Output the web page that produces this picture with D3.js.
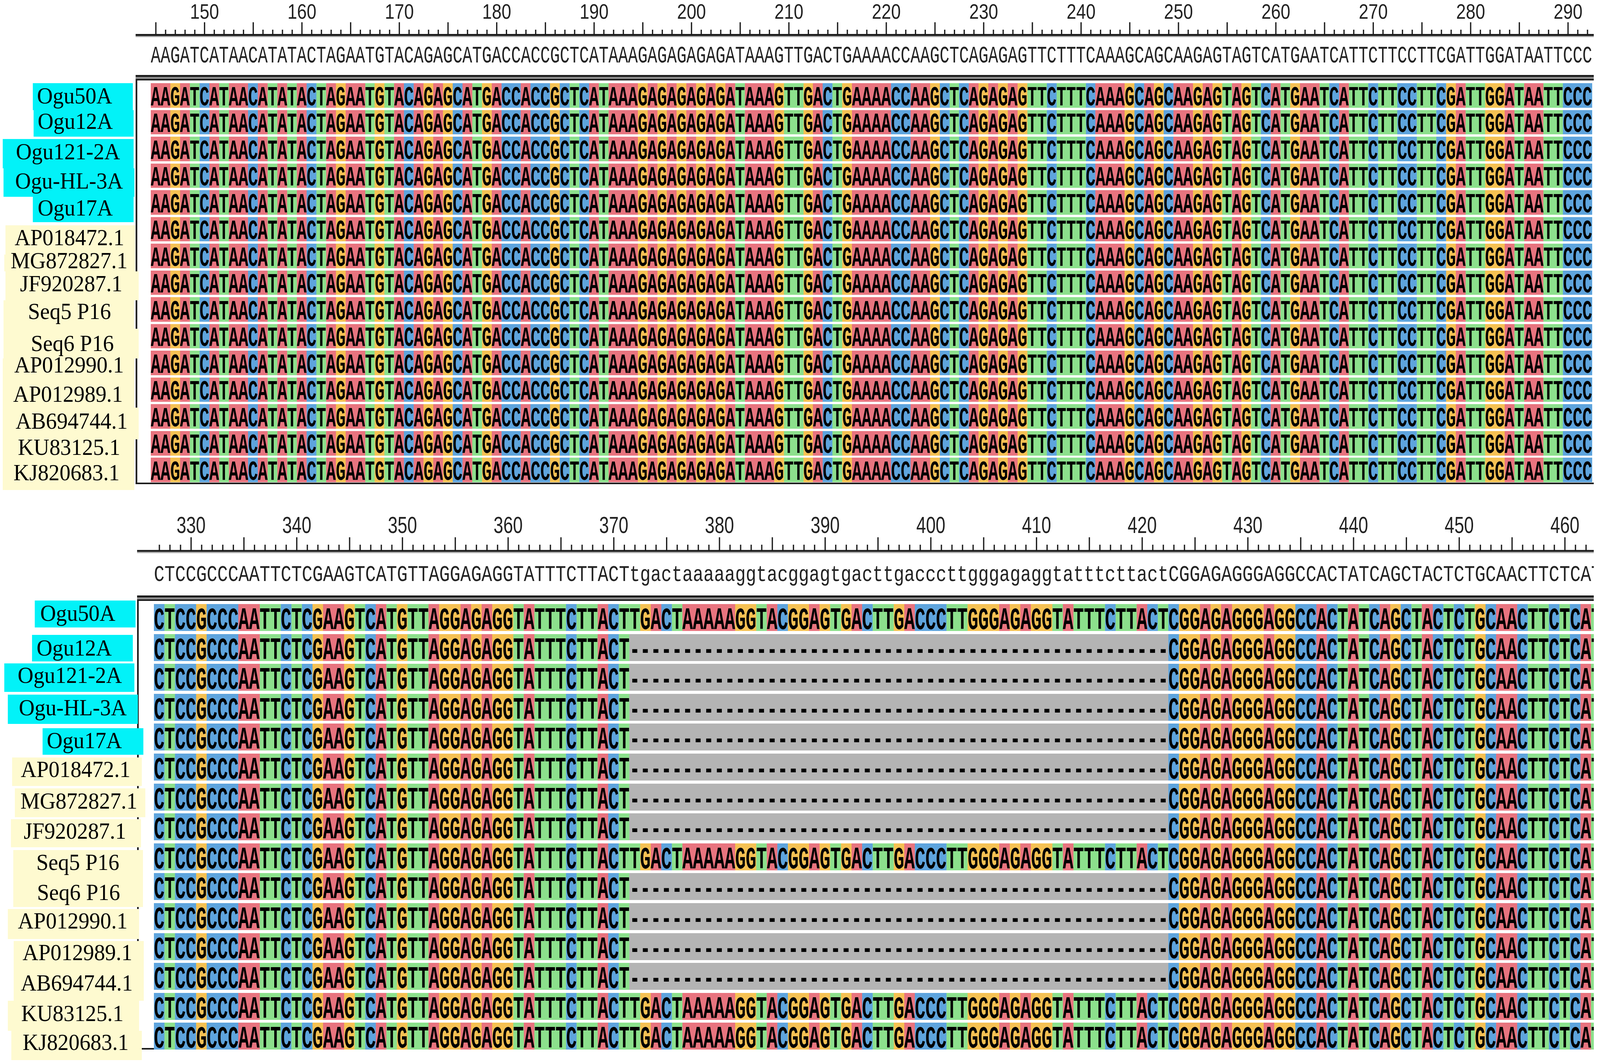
<!DOCTYPE html>
<html>
<head>
<meta charset="utf-8">
<script src="https://cdn.jsdelivr.net/npm/d3@7"></script>
<style>
  html, body { margin: 0; padding: 0; background: #fff; overflow: hidden; }
  svg { position: fixed; left: 0; top: 0; width: 100vw; height: 100vh; display: block; }
</style>
</head>
<body>
<svg id="chart" viewBox="0 0 4400 2725" preserveAspectRatio="none"></svg>
<script>
// ---- alignment data ----
const taxa = ["Ogu50A", "Ogu12A", "Ogu121-2A", "Ogu-HL-3A", "Ogu17A",
  "AP018472.1", "MG872827.1", "JF920287.1", "Seq5 P16", "Seq6 P16",
  "AP012990.1", "AP012989.1", "AB694744.1", "KU83125.1", "KJ820683.1"];
const ownIsolates = ["Ogu50A", "Ogu12A", "Ogu121-2A", "Ogu-HL-3A", "Ogu17A"];

// block 1: positions 145-292, all sequences identical to consensus
const topStart = 145;
const topConsensus = "AAGATCATAACATATACTAGAATGTACAGAGCATGACCACCGCTCATAAAGAGAGAGAGATAAAGTTGACTGAAAACCAAGCTCAGAGAGTTCTTTCAAAGCAGCAAGAGTAGTCATGAATCATTCTTCCTTCGATTGGATAATTCCC";
const topTickLabels = [150, 160, 170, 180, 190, 200, 210, 220, 230, 240, 250, 260, 270, 280, 290];

// block 2: positions 327-463, with a 51 bp indel (372-422)
const bottomStart = 327;
const bottomConsensus = "CTCCGCCCAATTCTCGAAGTCATGTTAGGAGAGGTATTTCTTACT" +
  "tgactaaaaaggtacggagtgacttgacccttgggagaggtatttcttact" +
  "CGGAGAGGGAGGCCACTATCAGCTACTCTGCAACTTCTCAT";
const bottomTickLabels = [330, 340, 350, 360, 370, 380, 390, 400, 410, 420, 430, 440, 450, 460];
const indelStart = 372;
const indelEnd = 422;
const withInsertion = ["Ogu50A", "Seq5 P16", "KU83125.1", "KJ820683.1"];

// ---- layout (hand-placed label boxes: [x0, x1, y0, y1], text: [cx, baseline]) ----
const topBoxes = [[90,365,213,282],[92,367,282,350],[8,367,356,431],[10,369,431,504],[90,367,504,569],
  [15,372,577,652],[12,372,652,695],[15,381,695,769],[10,368,769,842],[10,381,842,918],
  [8,370,918,990],[8,370,990,1044],[8,381,1044,1125],[8,370,1125,1195],[8,370,1195,1255]];
const topText = [[205,265],[207,330],[187,408],[190,483],[207,552],[191,628],[190,687],[196,746],
  [191,817],[199,899],[190,954],[187,1029],[197,1098],[190,1165],[183,1230]];
const bottomBoxes = [[96,373,1538,1607],[88,365,1626,1694],[12,370,1699,1772],[21,379,1779,1854],[117,394,1865,1933],
  [33,390,1940,2013],[41,400,2019,2093],[30,388,2098,2170],[36,393,2177,2249],[36,393,2249,2323],
  [22,382,2328,2405],[38,395,2410,2486],[38,395,2486,2563],[22,382,2563,2640],[31,390,2640,2715]];
const bottomText = [[214,1590],[204,1679],[192,1749],[200,1832],[232,1916],[208,1990],[217,2071],[206,2148],
  [214,2228],[216,2305],[200,2378],[213,2459],[211,2537],[199,2615],[208,2689]];

const baseColor = { A: "#e8747f", C: "#5ea4dd", G: "#f5c153", T: "#8ce08c", "-": "#b4b4b4" };
const ink = "#1c1c1c";
const rightEdge = 4383;

const svg = d3.select("#chart");
svg.append("rect").attr("width", 4400).attr("height", 2725).attr("fill", "#fff");
svg.append("defs").append("clipPath").attr("id", "clipRight")
  .append("rect").attr("x", 0).attr("y", 0).attr("width", rightEdge).attr("height", 2725);

function drawBlock(cfg) {
  const g = svg.append("g").attr("clip-path", "url(#clipRight)");
  const x = cfg.x;
  const bw = x(cfg.start + 1) - x(cfg.start);
  const y = cfg.y;
  const seqs = cfg.rows;

  // ruler
  const positions = d3.range(cfg.start, cfg.start + cfg.consensus.length);
  const minor = positions.filter(p => p % 5 !== 0);
  const major = positions.filter(p => p % 5 === 0);
  const axG = g.append("g").attr("transform", `translate(0,${cfg.rulerY})`);
  axG.append("g").call(d3.axisTop(x).tickValues(minor).tickSize(cfg.minorLen).tickFormat(""));
  axG.append("g").call(d3.axisTop(x).tickValues(major).tickSize(cfg.majorLen)
      .tickPadding(cfg.labelPad).tickFormat(d => cfg.tickLabels.includes(d) ? d : ""))
    .attr("font-family", "'Liberation Sans', Arial, sans-serif")
    .attr("font-size", cfg.labelSize)
    .selectAll("text").attr("fill", "#222").attr("transform", `scale(${cfg.labelSqueeze},1)`);
  axG.selectAll(".domain").remove();
  axG.selectAll(".tick line").attr("stroke", ink).attr("stroke-width", 3.5);

  g.append("rect").attr("x", cfg.frameX).attr("y", cfg.rulerY - 2.5)
    .attr("width", rightEdge - cfg.frameX).attr("height", 5).attr("fill", ink);
  g.append("rect").attr("x", cfg.frameX).attr("y", cfg.rulerY + 2.5)
    .attr("width", rightEdge - cfg.frameX).attr("height", 3).attr("fill", "#a8a8a8");

  // consensus line
  g.append("text")
    .attr("x", x(cfg.start) - bw / 2).attr("y", cfg.consensusY)
    .attr("textLength", bw * cfg.consensus.length).attr("lengthAdjust", "spacingAndGlyphs")
    .attr("font-family", "'Liberation Mono', 'DejaVu Sans Mono', monospace")
    .attr("font-size", cfg.consensusSize).attr("fill", "#222")
    .text(cfg.consensus);

  // double rule above the alignment
  const dl = cfg.doubleY;
  [[0, 5, ink], [5, 5, "#8e8e8e"], [10, 4, ink]].forEach(([dy, h, c]) => {
    g.append("rect").attr("x", cfg.frameX).attr("y", dl + dy)
      .attr("width", rightEdge - cfg.frameX).attr("height", h).attr("fill", c);
  });

  // frame left + bottom
  g.append("rect").attr("x", cfg.frameX).attr("y", dl + 14)
    .attr("width", 4.5).attr("height", cfg.frameBottom - dl - 14).attr("fill", ink);
  g.append("rect").attr("x", cfg.frameX).attr("y", cfg.frameBottom - 4)
    .attr("width", rightEdge - cfg.frameX).attr("height", 4).attr("fill", ink);

  // cells
  const rowG = g.selectAll("g.row").data(taxa).join("g").attr("class", "row");
  rowG.selectAll("rect")
    .data((name, i) => seqs[i].split("").map((ch, k) => ({ name, ch, pos: cfg.start + k })))
    .join("rect")
    .attr("x", d => x(d.pos) - bw / 2)
    .attr("y", d => y(d.name))
    .attr("width", bw)
    .attr("height", y.bandwidth())
    .attr("fill", d => baseColor[d.ch])
    .attr("shape-rendering", "crispEdges");
  rowG.append("text")
    .attr("x", x(cfg.start) - bw / 2)
    .attr("y", name => y(name) + cfg.rowBaseline)
    .attr("textLength", (name, i) => bw * seqs[i].length)
    .attr("lengthAdjust", "spacingAndGlyphs")
    .attr("font-family", "'Liberation Mono', 'DejaVu Sans Mono', monospace")
    .attr("font-weight", "bold")
    .attr("font-size", cfg.rowSize)
    .attr("fill", "#000")
    .text((name, i) => seqs[i]);

  // taxon labels
  const lab = svg.append("g");
  lab.selectAll("rect").data(taxa).join("rect")
    .attr("x", (d, i) => cfg.boxes[i][0]).attr("y", (d, i) => cfg.boxes[i][2])
    .attr("width", (d, i) => cfg.boxes[i][1] - cfg.boxes[i][0])
    .attr("height", (d, i) => cfg.boxes[i][3] - cfg.boxes[i][2])
    .attr("fill", d => ownIsolates.includes(d) ? "#02f2f8" : "#fefad0")
    .attr("shape-rendering", "crispEdges");
  lab.selectAll("text").data(taxa).join("text")
    .attr("x", (d, i) => cfg.text[i][0]).attr("y", (d, i) => cfg.text[i][1])
    .attr("text-anchor", "middle")
    .attr("font-family", "'Liberation Serif', 'Times New Roman', serif")
    .attr("font-size", 60).attr("fill", "#000")
    .text(d => d);
}

// block 1
const xTop = d3.scaleLinear().domain([150, 290]).range([562, 4311.6]);
const yTop = d3.scaleBand().domain(taxa).range([213, 1235]).paddingInner(0.0803);
drawBlock({
  x: xTop, y: yTop, start: topStart, consensus: topConsensus,
  rows: taxa.map(() => topConsensus),
  tickLabels: topTickLabels,
  rulerY: 89.5, majorLen: 32.5, minorLen: 13.5, labelPad: 9, labelSize: 53, labelSqueeze: 0.9,
  consensusY: 160, consensusSize: 61,
  doubleY: 192, frameX: 373, frameBottom: 1240,
  rowBaseline: 57, rowSize: 71,
  boxes: topBoxes, text: topText
});

// block 2
const xBottom = d3.scaleLinear().domain([330, 460]).range([525, 4303]);
const yBottom = d3.scaleBand().domain(taxa).range([1547, 2688.4]).paddingInner(0.0992);
const bottomRows = taxa.map(name => {
  const up = bottomConsensus.toUpperCase();
  if (withInsertion.includes(name)) return up;
  return up.split("").map((ch, k) => {
    const p = bottomStart + k;
    return (p >= indelStart && p <= indelEnd) ? "-" : ch;
  }).join("");
});
drawBlock({
  x: xBottom, y: yBottom, start: bottomStart, consensus: bottomConsensus,
  rows: bottomRows,
  tickLabels: bottomTickLabels,
  rulerY: 1411, majorLen: 35, minorLen: 16, labelPad: 11, labelSize: 60, labelSqueeze: 0.8,
  consensusY: 1488, consensusSize: 58,
  doubleY: 1525, frameX: 377, frameBottom: 2688,
  rowBaseline: 64, rowSize: 79,
  boxes: bottomBoxes, text: bottomText
});
</script>
</body>
</html>
